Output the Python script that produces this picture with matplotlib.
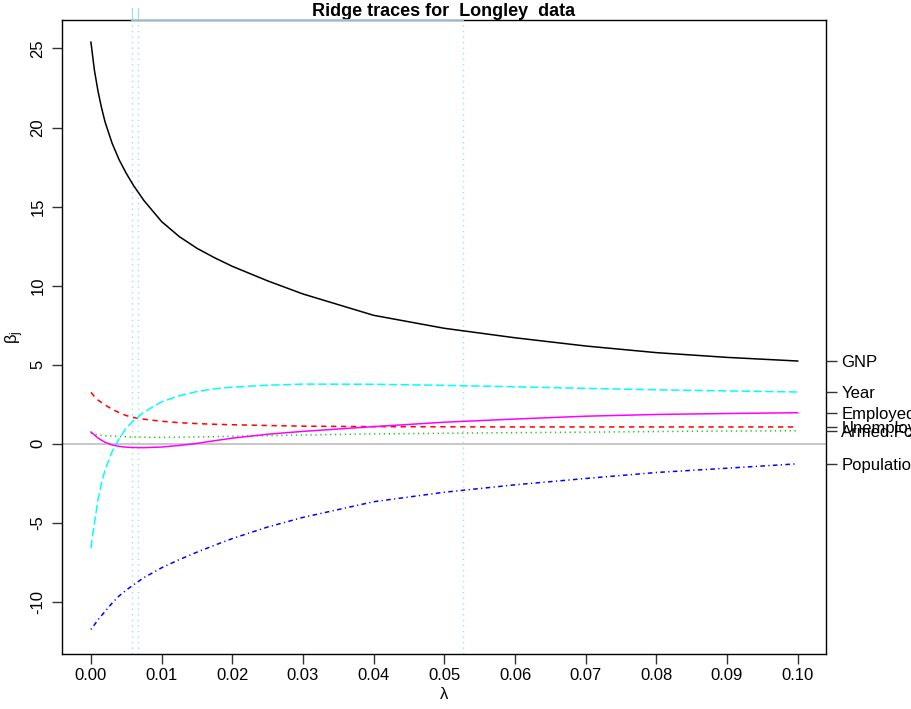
import numpy as np
import matplotlib
matplotlib.use("Agg")
import matplotlib.pyplot as plt

plt.rcParams["font.family"] = ["Liberation Sans", "DejaVu Sans"]
plt.rcParams["mathtext.fontset"] = "custom"
plt.rcParams["mathtext.rm"] = "Liberation Sans"
plt.rcParams["mathtext.it"] = "Liberation Sans:italic"

# ridge parameter values at which the traces were read
lam = [0, 0.0005, 0.001, 0.0015, 0.002, 0.003, 0.004, 0.005, 0.006, 0.0075,
       0.01, 0.0125, 0.015, 0.0175, 0.02, 0.025, 0.03, 0.04, 0.05, 0.06,
       0.07, 0.08, 0.09, 0.1]

gnp = [25.4, 23.6, 22.3, 21.25, 20.35, 19.0, 17.95, 17.1, 16.35, 15.38,
       14.05, 13.1, 12.36, 11.76, 11.22, 10.3, 9.47, 8.12, 7.3, 6.7,
       6.18, 5.76, 5.46, 5.23]
unemployed = [3.25, 2.98, 2.76, 2.6, 2.45, 2.18, 1.96, 1.78, 1.66, 1.55,
              1.42, 1.33, 1.27, 1.23, 1.2, 1.15, 1.11, 1.08, 1.07, 1.06,
              1.06, 1.06, 1.06, 1.06]
armed_forces = [0.68, 0.6, 0.56, 0.53, 0.51, 0.48, 0.46, 0.44, 0.42, 0.41,
                0.4, 0.41, 0.43, 0.45, 0.47, 0.51, 0.55, 0.62, 0.66, 0.7,
                0.73, 0.77, 0.8, 0.82]
population = [-11.75, -11.45, -11.14, -10.87, -10.61, -10.08, -9.62, -9.26, -8.93, -8.47,
              -7.85, -7.33, -6.86, -6.42, -6.0, -5.27, -4.66, -3.67, -3.07, -2.6,
              -2.2, -1.82, -1.55, -1.27]
year = [-6.6, -5.0, -3.55, -2.5, -1.65, -0.5, 0.33, 0.99, 1.45, 2.0,
        2.65, 3.03, 3.3, 3.47, 3.58, 3.7, 3.77, 3.76, 3.69, 3.6,
        3.5, 3.41, 3.34, 3.27]
employed = [0.74, 0.55, 0.36, 0.22, 0.09, -0.08, -0.17, -0.22, -0.24, -0.25,
            -0.21, -0.11, 0.02, 0.19, 0.35, 0.6, 0.78, 1.08, 1.36, 1.56,
            1.74, 1.85, 1.91, 1.96]

names = ["GNP", "Unemployed", "Armed.Forces", "Population", "Year", "Employed"]
series = [gnp, unemployed, armed_forces, population, year, employed]
colors = ["black", "red", "#00cd00", "blue", "cyan", "magenta"]
dashes = [None, (3.5, 3), (0.8, 2.4), (0.8, 2.2, 3, 2.2), (5.5, 2.2), None]

# lambda estimates marked by vertical lines
k_marks = [0.00584, 0.00669, 0.0526]

fig = plt.figure(figsize=(9.11, 7.09), dpi=100)
ax = fig.add_axes([0.068, 0.0776, 0.8387, 0.8942])

ax.axhline(0, color="#bebebe", lw=1.2, zorder=1)
for k in k_marks:
    ax.axvline(k, color="#a8dcea", lw=1, linestyle=(0, (1, 3)), zorder=1)

for y, c, d in zip(series, colors, dashes):
    line, = ax.plot(lam, y, color=c, lw=1.1, zorder=3)
    if d is not None:
        line.set_dashes(d)

# marks running above the plot region
top = 26.8
ax.plot([k_marks[0], k_marks[2]], [top, top], color="#a8cfdc", lw=1.3,
        clip_on=False, zorder=5)
for k in k_marks[:2]:
    ax.plot([k, k], [top, top + 0.75], color="#a8dcea", lw=1, clip_on=False)

ax.set_xlim(-0.0041, 0.104)
ax.set_ylim(-13.3, top)
ax.set_xticks(np.arange(0, 0.1001, 0.01))
ax.set_xticklabels([f"{v:.2f}" for v in np.arange(0, 0.1001, 0.01)])
ax.set_yticks([-10, -5, 0, 5, 10, 15, 20, 25])
ax.set_yticklabels(["-10", "-5", "0", "5", "10", "15", "20", "25"],
                   rotation=90, va="center")
ax.tick_params(axis="both", length=7, width=1, labelsize=12, color="#333333")
ax.tick_params(axis="x", pad=3)
ax.tick_params(axis="y", pad=5)
for s in ax.spines.values():
    s.set_linewidth(1)

ax.set_xlabel("\u03bb", fontsize=12, labelpad=3)
ax.set_ylabel(r"$\mathrm{\beta_j}$", fontsize=12, labelpad=3)
ax.set_title("Ridge traces for  Longley  data", fontsize=13, fontweight="bold",
             pad=0.8, va="center")

# variable names at the right ends of the traces
ax2 = ax.twinx()
ax2.set_ylim(ax.get_ylim())
ax2.set_yticks([s[-1] for s in series])
ax2.set_yticklabels(names)
ax2.tick_params(axis="y", length=8, width=1, labelsize=12, pad=3, color="#333333")
for s in ax2.spines.values():
    s.set_visible(False)

fig.savefig("out.png", dpi=100)
